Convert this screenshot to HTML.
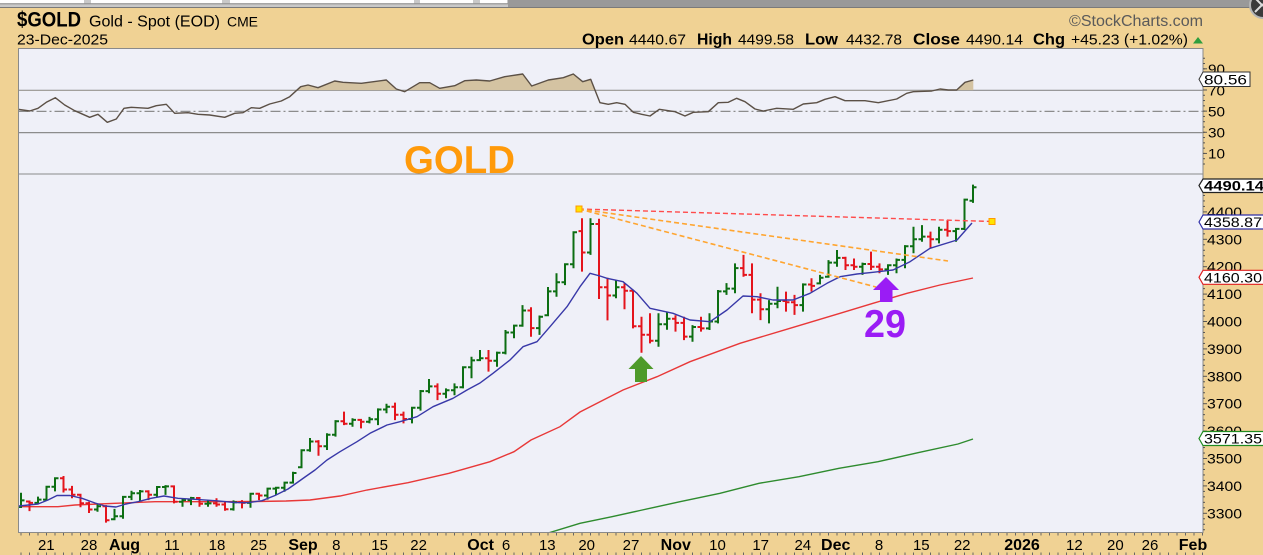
<!DOCTYPE html>
<html><head><meta charset="utf-8">
<style>
html,body{margin:0;padding:0;background:#F0D294;overflow:hidden;}
svg{display:block;}
text{font-family:"Liberation Sans",Arial,sans-serif;fill:#000;}
</style></head>
<body>
<svg id="c" width="1263" height="555" viewBox="0 0 1263 555" xmlns="http://www.w3.org/2000/svg">
<defs>
<clipPath id="above70"><rect x="18.5" y="48.5" width="1185" height="41.8"/></clipPath>
<clipPath id="rsiclip"><rect x="18.5" y="48.5" width="1184.5" height="125.5"/></clipPath>
<clipPath id="pclip"><rect x="18.5" y="174" width="1184.5" height="358.5"/></clipPath>
</defs>
<rect width="1263" height="555" fill="#F0D294"/>

<!-- top strip -->
<rect x="0" y="0" width="1263" height="8" fill="#999999"/>
<rect x="0" y="0" width="508" height="8" fill="#C9C9C9"/>
<g fill="#ffffff">
<rect x="0" y="0" width="84" height="3.3"/>
<rect x="91" y="0" width="131" height="3.3"/>
<rect x="230" y="0" width="184" height="3.3"/>
<rect x="420" y="0" width="53" height="3.3"/>
<rect x="480" y="0" width="27" height="3.3"/>
</g>
<rect x="0" y="3.3" width="508" height="1" fill="#8a8a8a"/>
<rect x="0" y="7" width="1263" height="1" fill="#7a7a7a"/>
<circle cx="1263" cy="5" r="13" fill="#3a3a3a" stroke="#b5b5b5" stroke-width="2"/>
<path d="M1255 -2 L1263 6 M1255 12 L1263 4" stroke="#dddddd" stroke-width="2"/>

<!-- header -->
<text x="17" y="26.5" font-size="21" font-weight="bold" textLength="64" lengthAdjust="spacingAndGlyphs">$GOLD</text>
<text x="89" y="26.5" font-size="16" textLength="131" lengthAdjust="spacingAndGlyphs">Gold - Spot (EOD)</text>
<text x="227" y="26.5" font-size="14" textLength="31" lengthAdjust="spacingAndGlyphs">CME</text>
<text x="17" y="44.5" font-size="15" textLength="91" lengthAdjust="spacingAndGlyphs">23-Dec-2025</text>
<text x="1069" y="26" font-size="16" textLength="134" lengthAdjust="spacingAndGlyphs" style="fill:#5a5a5a">©StockCharts.com</text>

<text x="582" y="44.5" font-size="16" font-weight="bold" textLength="42" lengthAdjust="spacingAndGlyphs">Open</text>
<text x="629" y="44.5" font-size="15" textLength="57" lengthAdjust="spacingAndGlyphs">4440.67</text>
<text x="697" y="44.5" font-size="16" font-weight="bold" textLength="35" lengthAdjust="spacingAndGlyphs">High</text>
<text x="738" y="44.5" font-size="15" textLength="56" lengthAdjust="spacingAndGlyphs">4499.58</text>
<text x="805" y="44.5" font-size="16" font-weight="bold" textLength="33" lengthAdjust="spacingAndGlyphs">Low</text>
<text x="846" y="44.5" font-size="15" textLength="56" lengthAdjust="spacingAndGlyphs">4432.78</text>
<text x="913" y="44.5" font-size="16" font-weight="bold" textLength="47" lengthAdjust="spacingAndGlyphs">Close</text>
<text x="966" y="44.5" font-size="15" textLength="57" lengthAdjust="spacingAndGlyphs">4490.14</text>
<text x="1033" y="44.5" font-size="16" font-weight="bold" textLength="32" lengthAdjust="spacingAndGlyphs">Chg</text>
<text x="1071" y="44.5" font-size="15" textLength="117" lengthAdjust="spacingAndGlyphs">+45.23 (+1.02%)</text>
<polygon points="1193,43.5 1203,43.5 1198,37" fill="#2E9E3E"/>

<!-- RSI panel -->
<rect x="18.5" y="48.5" width="1184.5" height="125.5" fill="#EFF0F8" stroke="#8a8a8a" stroke-width="1"/>
<line x1="18.5" y1="90.3" x2="1203" y2="90.3" stroke="#8c8c8c" stroke-width="1.2"/>
<line x1="18.5" y1="132.6" x2="1203" y2="132.6" stroke="#8c8c8c" stroke-width="1.2"/>
<line x1="18.5" y1="111.4" x2="1203" y2="111.4" stroke="#8c8c8c" stroke-width="1.2" stroke-dasharray="10,3,2,3"/>
<g clip-path="url(#rsiclip)">
<polygon id="rsifill" fill="#D4C3A2" clip-path="url(#above70)" points=""/>
<polyline id="rsiline" fill="none" stroke="#5B5046" stroke-width="1.4" stroke-linejoin="round" points=""/>
</g>
<text x="404" y="173" font-size="39" font-weight="bold" textLength="111" lengthAdjust="spacingAndGlyphs" style="fill:#FF9A0A">GOLD</text>
<rect x="18.5" y="48.5" width="1184.5" height="125.5" fill="none" stroke="#8a8a8a" stroke-width="1"/>

<!-- RSI axis -->
<g id="rsiax" stroke="#555" stroke-width="1"></g>
<g font-size="14">
<text x="1208" y="74" textLength="17" lengthAdjust="spacingAndGlyphs">90</text>
<text x="1208" y="95.3" textLength="17" lengthAdjust="spacingAndGlyphs">70</text>
<text x="1208" y="116.4" textLength="17" lengthAdjust="spacingAndGlyphs">50</text>
<text x="1208" y="137.6" textLength="17" lengthAdjust="spacingAndGlyphs">30</text>
<text x="1208" y="158.7" textLength="17" lengthAdjust="spacingAndGlyphs">10</text>
</g>
<polygon points="1199,79.2 1203,72 1250,72 1250,86.5 1203,86.5" fill="#FFFFFF" stroke="#333" stroke-width="1"/>
<text x="1204" y="84.3" font-size="14" textLength="43" lengthAdjust="spacingAndGlyphs">80.56</text>

<!-- price panel -->
<rect x="18.5" y="174" width="1184.5" height="358.5" fill="#EFF0F8" stroke="#8a8a8a" stroke-width="1"/>
<g clip-path="url(#pclip)">
<polyline fill="none" stroke="#2E8B2E" stroke-width="1.4" points="545,534 580,523.3 612,516.7 640,510.5 680,501.7 720,493.3 759,483.3 799,476.7 839,468.3 878,461.7 918,452.7 958,444 973,439"/>
<polyline fill="none" stroke="#E83838" stroke-width="1.4" points="19,506.7 58,506.7 75,505 115,503.3 155,501.7 215,501.7 255,501.5 286,501 310,500 340,496 367,490 408,482.7 449,473.3 490,461.7 514,451.7 531,440 560,426.7 580,412 600,401.7 623,390 657,376.7 690,361.7 740,343.3 790,328.3 840,313.3 873,303.3 907,293.3 940,285 973,278"/>
<path id="gbars" fill="none" stroke="#0C6E12" stroke-width="2" d=""/>
<path id="rbars" fill="none" stroke="#E4141C" stroke-width="2" d=""/>
<polyline fill="none" stroke="#3838A8" stroke-width="1.4" stroke-linejoin="round" points="19,506 38,504 48,500 57,495.5 70,495.5 82,498.3 95,503 105,506 116,507 126,504 138,501.7 151,498.3 164,496 178,498.3 195,499.3 215,500.7 235,502.5 248,502.7 262,500.7 275,495.5 288,489 298,482 305,477 315,470 327,460 340,451.7 357,441.7 370,433.3 387,425 400,421.7 417,416.7 433,406.7 453,398.3 467,390 480,383 493,373.3 510,360 523,346.7 537,341.7 550,326.7 567,306.7 580,286.7 590,273.3 600,276 607,278.3 623,281.7 637,293.3 650,308.3 673,313.3 690,320 710,321.7 727,310 743,296 757,296.7 773,300 793,300 810,293.3 827,283.3 840,276.7 857,274 873,272.3 893,270 910,261.7 930,248.3 957,240 972,223"/>
<!-- trend lines -->
<line x1="579" y1="209" x2="992" y2="221.5" stroke="#FF4A4A" stroke-width="1.4" stroke-dasharray="5,3"/>
<line x1="579" y1="209" x2="948" y2="261" stroke="#FFA530" stroke-width="1.6" stroke-dasharray="5,3"/>
<line x1="579" y1="209" x2="876" y2="287" stroke="#FFA530" stroke-width="1.6" stroke-dasharray="5,3"/>
<rect x="576" y="206" width="6" height="6" fill="#FFE400" stroke="#FF9A00" stroke-width="1"/>
<rect x="989" y="218.5" width="6" height="6" fill="#FFE400" stroke="#FF9A00" stroke-width="1"/>
<!-- arrows -->
<polygon points="641,356 653.5,369 647,369 647,382 635,382 635,369 628.5,369" fill="#4E9A2A"/>
<polygon points="886,277 899,290 892.5,290 892.5,302 880,302 880,290 873,290" fill="#9A1CF5"/>
<text x="864" y="337" font-size="39" font-weight="bold" textLength="42" lengthAdjust="spacingAndGlyphs" style="fill:#9A1CF5">29</text>
</g>
<rect x="18.5" y="174" width="1184.5" height="358.5" fill="none" stroke="#8a8a8a" stroke-width="1"/>

<!-- price axis -->
<g id="pax" stroke="#555" stroke-width="1"></g>
<g font-size="14">
<text x="1207" y="216.9" textLength="35" lengthAdjust="spacingAndGlyphs">4400</text>
<text x="1207" y="244.3" textLength="35" lengthAdjust="spacingAndGlyphs">4300</text>
<text x="1207" y="271.7" textLength="35" lengthAdjust="spacingAndGlyphs">4200</text>
<text x="1207" y="299.1" textLength="35" lengthAdjust="spacingAndGlyphs">4100</text>
<text x="1207" y="326.5" textLength="35" lengthAdjust="spacingAndGlyphs">4000</text>
<text x="1207" y="353.9" textLength="35" lengthAdjust="spacingAndGlyphs">3900</text>
<text x="1207" y="381.3" textLength="35" lengthAdjust="spacingAndGlyphs">3800</text>
<text x="1207" y="408.7" textLength="35" lengthAdjust="spacingAndGlyphs">3700</text>
<text x="1207" y="436.1" textLength="35" lengthAdjust="spacingAndGlyphs">3600</text>
<text x="1207" y="463.5" textLength="35" lengthAdjust="spacingAndGlyphs">3500</text>
<text x="1207" y="490.9" textLength="35" lengthAdjust="spacingAndGlyphs">3400</text>
<text x="1207" y="518.3" textLength="35" lengthAdjust="spacingAndGlyphs">3300</text>
</g>
<polygon points="1199,185.5 1203,179 1266,179 1266,192.5 1203,192.5" fill="#FFFFFF" stroke="#222" stroke-width="1.2"/>
<text x="1204" y="190.5" font-size="14" font-weight="bold" textLength="60" lengthAdjust="spacingAndGlyphs">4490.14</text>
<polygon points="1199,222 1203,215 1266,215 1266,229 1203,229" fill="#FFFFFF" stroke="#3030A8" stroke-width="1.2"/>
<text x="1204" y="227" font-size="14" textLength="58" lengthAdjust="spacingAndGlyphs">4358.87</text>
<polygon points="1199,277.3 1203,270.3 1266,270.3 1266,284.3 1203,284.3" fill="#FFFFFF" stroke="#E02020" stroke-width="1.2"/>
<text x="1204" y="282.3" font-size="14" textLength="58" lengthAdjust="spacingAndGlyphs">4160.30</text>
<polygon points="1199,438.5 1203,431.5 1266,431.5 1266,445.5 1203,445.5" fill="#FFFFFF" stroke="#208A20" stroke-width="1.2"/>
<text x="1204" y="443.5" font-size="14" textLength="58" lengthAdjust="spacingAndGlyphs">3571.35</text>

<!-- x axis -->
<g id="xax" stroke="#666" stroke-width="1"></g>
<g font-size="15" text-anchor="middle">
<text x="46.3" y="550">21</text>
<text x="89" y="550">28</text>
<text x="124.5" y="550" font-size="16" font-weight="bold">Aug</text>
<text x="172" y="550">11</text>
<text x="217" y="550">18</text>
<text x="258.6" y="550">25</text>
<text x="303" y="550" font-size="16" font-weight="bold">Sep</text>
<text x="336.3" y="550">8</text>
<text x="379.6" y="550">15</text>
<text x="418.6" y="550">22</text>
<text x="480.6" y="550" font-size="16" font-weight="bold">Oct</text>
<text x="506" y="550">6</text>
<text x="547.3" y="550">13</text>
<text x="586.7" y="550">20</text>
<text x="631" y="550">27</text>
<text x="675.8" y="550" font-size="16" font-weight="bold">Nov</text>
<text x="717.5" y="550">10</text>
<text x="760.7" y="550">17</text>
<text x="802.8" y="550">24</text>
<text x="835.7" y="550" font-size="16" font-weight="bold">Dec</text>
<text x="879" y="550">8</text>
<text x="921.3" y="550">15</text>
<text x="962.2" y="550">22</text>
<text x="1022" y="550" font-size="16" font-weight="bold">2026</text>
<text x="1074.4" y="550">12</text>
<text x="1115.4" y="550">20</text>
<text x="1150" y="550">26</text>
<text x="1193" y="550" font-size="16" font-weight="bold">Feb</text>
</g>
</svg>
<script>
(function(){
function Y(p){return 239.3+(4300-p)*0.274;}
function X(d){return 46.5+8.5*d;}
var B=[
[3375,3320,3347],[3343,3308,3338],[3361,3332,3350],[3400,3348,3397],[3431,3380,3428],[3436,3376,3387],[3400,3355,3368],[3370,3322,3337],
[3342,3301,3314],[3332,3306,3326],[3330,3266,3275],[3316,3278,3289],[3362,3280,3360],[3382,3348,3373],[3385,3343,3380],[3384,3348,3368],
[3397,3360,3396],[3403,3367,3398],[3400,3336,3342],[3355,3324,3348],[3360,3330,3356],[3358,3324,3335],[3348,3324,3336],[3355,3324,3332],
[3342,3309,3315],[3347,3310,3340],[3348,3318,3338],[3373,3320,3371],[3373,3348,3365],[3391,3350,3390],[3395,3367,3393],[3415,3379,3412],
[3452,3409,3447],[3531,3468,3530],[3575,3525,3562],[3567,3510,3545],[3592,3531,3587],[3640,3580,3636],[3671,3622,3627],[3647,3616,3641],
[3643,3610,3634],[3652,3628,3643],[3683,3622,3679],[3700,3665,3689],[3704,3640,3660],[3671,3628,3644],[3688,3628,3685],[3750,3675,3746],
[3790,3738,3763],[3774,3713,3736],[3756,3720,3749],[3774,3731,3760],[3835,3756,3833],[3871,3793,3858],[3896,3859,3866],[3896,3817,3857],
[3890,3835,3886],[3969,3880,3960],[3987,3939,3985],[4060,3981,4040],[4052,3944,3976],[4022,3951,4017],[4126,4023,4110],[4176,4090,4143],
[4212,4133,4209],[4328,4194,4326],[4377,4182,4252,4330],[4377,4243,4356],[4375,4082,4125],[4160,4004,4095],[4150,4085,4125],[4140,4045,4112],
[4115,3975,3983],[4017,3886,3952],[4030,3920,3930],[4030,3908,3990],[4036,3970,4010],[4023,3963,3995],[4017,3932,3945],[3987,3926,3980],
[4017,3963,3975],[4030,3969,4000],[4115,3993,4110],[4140,4097,4120],[4212,4103,4195],[4243,4163,4170],[4212,4030,4080],[4103,4005,4045],
[4078,3993,4065],[4127,4048,4075],[4109,4036,4070],[4097,4024,4060],[4139,4036,4135],[4158,4109,4130],[4170,4139,4160],[4224,4163,4215],
[4261,4200,4232],[4236,4188,4205],[4230,4188,4200],[4215,4170,4210],[4255,4188,4200],[4212,4176,4190],[4206,4170,4205],[4230,4176,4225],
[4279,4194,4275],[4346,4249,4300],[4352,4291,4310],[4328,4267,4300],[4346,4285,4335],[4370,4310,4330],[4340,4291,4338],[4446,4334,4444.91],
[4499.58,4432.78,4490.14,4440.67]
];
var g='',r='',prev=null;
for(var i=0;i<B.length;i++){
 var d=i-3,b=B[i],h=b[0],l=b[1],c=b[2],o=b[3];
 if(o===undefined){o=(prev===null)?3323:Math.min(h,Math.max(l,prev));}
 var x=X(d);
 var s='M'+x+' '+Y(h).toFixed(1)+'V'+Y(l).toFixed(1)+'M'+(x-3.5)+' '+Y(o).toFixed(1)+'H'+(x+1)+'M'+(x-1)+' '+Y(c).toFixed(1)+'H'+(x+3.5);
 if(prev===null||c>=prev)g+=s;else r+=s;
 prev=c;
}
document.getElementById('gbars').setAttribute('d',g);
document.getElementById('rbars').setAttribute('d',r);

var R=[[18,109.3],[29.7,111],[38,108.3],[46.3,102.3],[55.3,97.7],[64.7,105],[74.7,110.7],[89.7,117.3],[98,114.3],[107.3,122.3],[116.3,119],[124,108.3],[131.3,107.3],[148,108.3],[156.3,105.7],[166.3,104.3],[174.7,113.3],[188,112.7],[198,114.3],[209.7,115],[224.7,117.3],[234.7,113.3],[243,112.7],[251.3,107.7],[259.7,108.3],[269.7,104],[281.3,101],[289.7,96.7],[300.7,86.7],[308,85],[318,87.7],[334.7,81],[343,82.3],[361.3,83.3],[386.3,80],[396.3,89],[404.7,91.7],[419.7,82.7],[429.7,82.7],[439.7,88.3],[454.7,85.7],[464.7,80.7],[476.3,80],[489.7,81],[504.7,76.7],[522.7,74],[531.7,86],[548.3,80],[563.3,77.7],[573.3,74],[582.7,81.7],[590.7,79.3],[600,102.7],[608.3,104.3],[616.7,102.7],[625,104.3],[633.3,112.3],[641.7,114.3],[650,116],[659.3,109.3],[675,111.7],[685,116],[693.3,112.3],[708.3,111.7],[718.3,102.7],[728.3,102.3],[736.7,98.3],[745,101.7],[755,109],[763.3,111],[776.7,108.3],[793.3,109.3],[803.3,104],[816.7,102.7],[825,99.3],[835,96.7],[845,100.7],[865,100.7],[878.3,102.7],[896.7,99],[906.7,93.3],[913.3,91.7],[931.7,91],[940,89],[948.3,90],[956.7,90],[965,82.3],[973.3,80]];
var pts=R.map(function(p){return p[0]+','+p[1];}).join(' ');
document.getElementById('rsiline').setAttribute('points',pts);
document.getElementById('rsifill').setAttribute('points',pts+' 973.3,90.3 18,90.3');

var NS='http://www.w3.org/2000/svg';
function ln(parent,x1,y1,x2,y2){var e=document.createElementNS(NS,'line');e.setAttribute('x1',x1);e.setAttribute('y1',y1);e.setAttribute('x2',x2);e.setAttribute('y2',y2);parent.appendChild(e);}
var pax=document.getElementById('pax');
for(var p=3240;p<=4460;p+=20){var y=Y(p);if(y<175||y>532)continue;ln(pax,1203,y,(p%100===0)?1207:1205,y);}
var rax=document.getElementById('rsiax');
[10,30,50,70,90].forEach(function(v){var y=164-v*1.0575;ln(rax,1203,y,1207,y);});
for(var v=0;v<=100;v+=5){var yy=164-v*1.0575;if(yy>49&&yy<174)ln(rax,1203,yy,1205,yy);}
var xax=document.getElementById('xax');
for(var d=-3;d<=137;d++){var x=X(d);if(x<19||x>1203)continue;ln(xax,x,533,x,535.5);ln(xax,x,552.5,x,555);}
})();
</script>
</body></html>
